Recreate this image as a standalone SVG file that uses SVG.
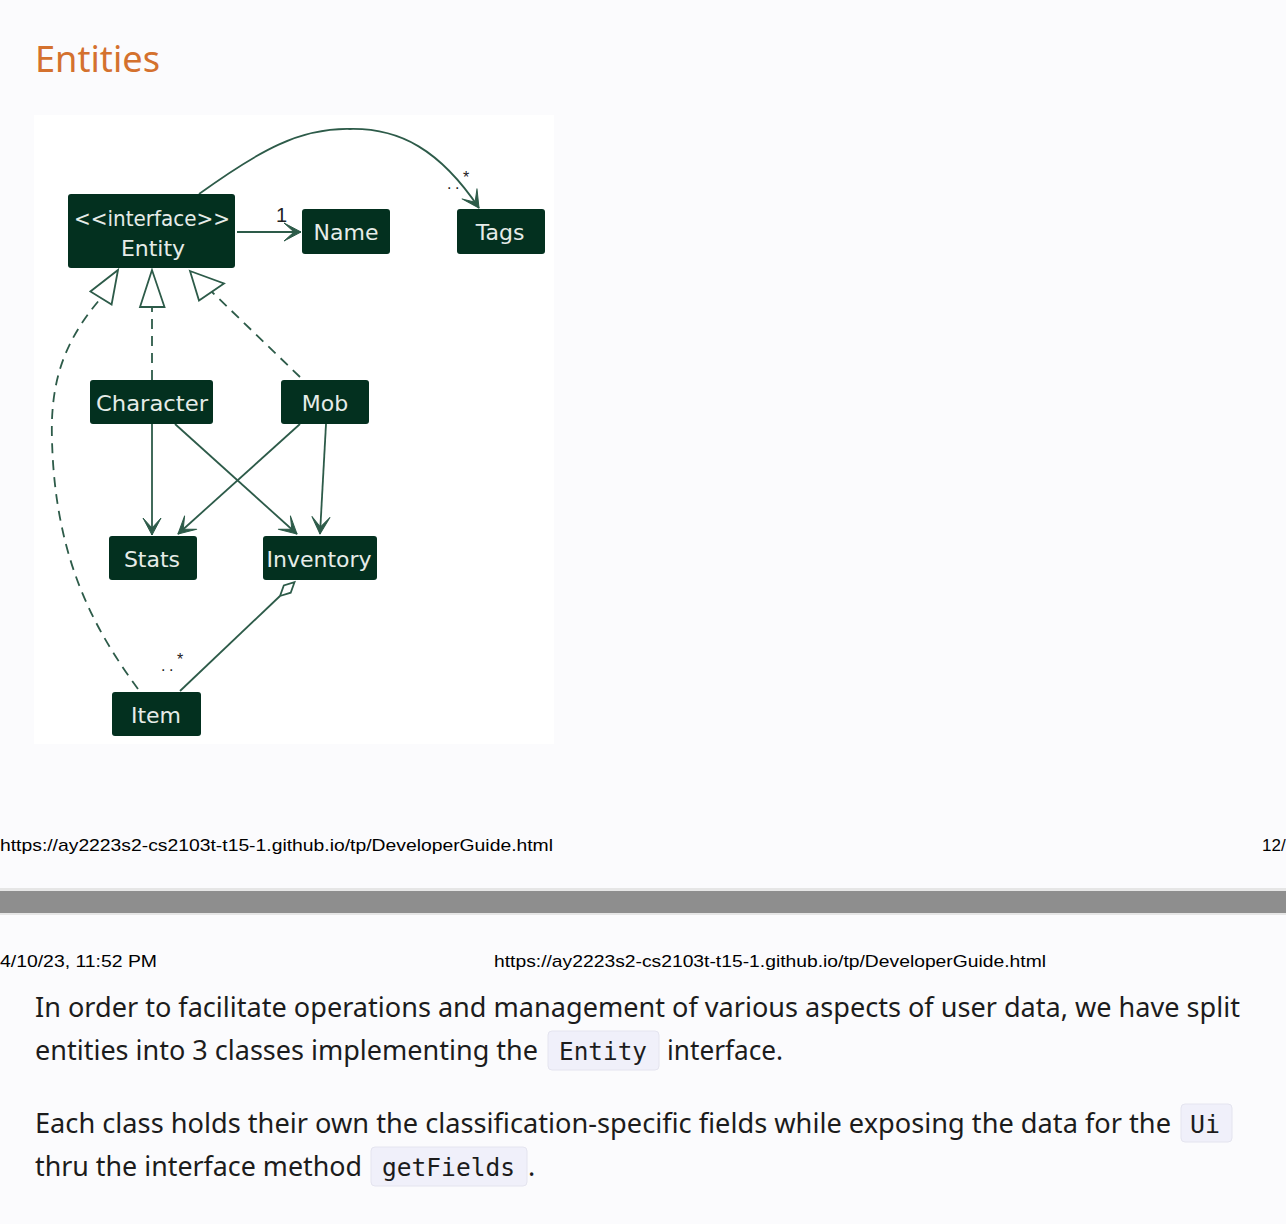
<svg xmlns="http://www.w3.org/2000/svg" width="1286" height="1224" viewBox="0 0 1286 1224">
<style>
.node rect{fill:#03301f;}
.node text{font-family:"DejaVu Sans",sans-serif;font-size:22px;fill:#e6ece8;text-anchor:middle;}
.edge{fill:none;stroke:#2d5b49;stroke-width:1.8;}
.dash{stroke-dasharray:10,7;}
.hollow{fill:#ffffff;stroke:#2d5b49;stroke-width:1.8;}
.lbl{font-family:"Liberation Sans",sans-serif;fill:#222;}
.body{font-family:"Noto Sans","Open Sans",sans-serif;font-size:27px;fill:#1c1c1c;}
.code{font-family:"DejaVu Sans Mono","Liberation Mono",monospace;font-size:25px;fill:#1c1c1c;}
.cbox{fill:#f0f0fa;stroke:#e4e4ef;stroke-width:1;}
.foot{font-family:"Liberation Sans",sans-serif;font-size:17px;fill:#000;}
</style>
<defs>
<marker id="arr" markerUnits="userSpaceOnUse" viewBox="-18 -11 20 22" refX="0" refY="0" markerWidth="20" markerHeight="22" orient="auto">
<path d="M0,0 L-17,-9 L-7,0 L-17,9 Z" fill="#2d5b49" stroke="#2d5b49" stroke-width="1" stroke-linejoin="round"/>
</marker>
</defs>
<rect x="0" y="0" width="1286" height="1224" fill="#fbfbfd"/>
<text x="35" y="72" font-family="Noto Sans, Open Sans, sans-serif" font-size="37" fill="#d4712e" textLength="125" lengthAdjust="spacingAndGlyphs">Entities</text>
<rect x="34" y="115" width="520" height="629" fill="#ffffff"/>

<g id="connectors">
<path class="edge" d="M199,194 C260,150 300,128 350,129 C400,128 440,150 479,208" marker-end="url(#arr)"/>
<path class="edge" d="M237,232 L301,232" marker-end="url(#arr)"/>
<path class="edge" d="M152,424 L152,535" marker-end="url(#arr)"/>
<path class="edge" d="M300,424 L178,534" marker-end="url(#arr)"/>
<path class="edge" d="M175,424 L297,534" marker-end="url(#arr)"/>
<path class="edge" d="M326,424 L320,534" marker-end="url(#arr)"/>
<path class="edge dash" d="M152,380 L152,307"/>
<polygon class="hollow" points="152,270 140,307 164.5,307"/>
<path class="edge dash" d="M300,377 L212,292"/>
<polygon class="hollow" points="190,271 224,283.5 199,300.5"/>
<path class="edge dash" d="M138,689 C95,630 55,560 52,440 C50,380 65,340 101,298"/>
<polygon class="hollow" points="118,270 111.6,304.5 90.4,291.5"/>
<path class="edge" d="M180,691 L280,596"/>
<polygon class="hollow" points="280,596 290.7,592.7 294.5,582.2 283.8,585.5"/>
<text class="lbl" x="276" y="222" font-size="20">1</text>
<text class="lbl" x="447" y="189" font-size="16" letter-spacing="3.5">..<tspan dy="-6">*</tspan></text>
<text class="lbl" x="161" y="671" font-size="16" letter-spacing="3.5">..<tspan dy="-6">*</tspan></text>
</g>

<g id="entity" class="node"><rect x="68" y="194" width="167" height="74" rx="3"/>
<text x="152" y="226" textLength="156" lengthAdjust="spacingAndGlyphs">&lt;&lt;interface&gt;&gt;</text>
<text x="153" y="256">Entity</text></g>
<g id="name" class="node"><rect x="302" y="209" width="88" height="45" rx="3"/><text x="346" y="240">Name</text></g>
<g id="tags" class="node"><rect x="457" y="209" width="88" height="45" rx="3"/><text x="500" y="240">Tags</text></g>
<g id="character" class="node"><rect x="90" y="380" width="123" height="44" rx="3"/><text x="152" y="411" textLength="112" lengthAdjust="spacingAndGlyphs">Character</text></g>
<g id="mob" class="node"><rect x="281" y="380" width="88" height="44" rx="3"/><text x="325" y="411">Mob</text></g>
<g id="stats" class="node"><rect x="109" y="536" width="88" height="44" rx="3"/><text x="152" y="567">Stats</text></g>
<g id="inventory" class="node"><rect x="263" y="536" width="114" height="44" rx="3"/><text x="319" y="567">Inventory</text></g>
<g id="item" class="node"><rect x="112" y="692" width="89" height="44" rx="3"/><text x="156" y="723">Item</text></g>

<text class="foot" x="0" y="851" textLength="553" lengthAdjust="spacingAndGlyphs">https://ay2223s2-cs2103t-t15-1.github.io/tp/DeveloperGuide.html</text>
<text class="foot" x="1262" y="851">12/</text>
<rect x="0" y="888" width="1286" height="27" fill="#e6e6e6"/>
<rect x="0" y="891" width="1286" height="22" fill="#8e8e8e"/>
<text class="foot" x="0" y="967" textLength="157" lengthAdjust="spacingAndGlyphs">4/10/23, 11:52 PM</text>
<text class="foot" x="494" y="967" textLength="552" lengthAdjust="spacingAndGlyphs">https://ay2223s2-cs2103t-t15-1.github.io/tp/DeveloperGuide.html</text>

<text class="body" x="35" y="1017" textLength="1205" lengthAdjust="spacingAndGlyphs">In order to facilitate operations and management of various aspects of user data, we have split</text>
<text class="body" x="35" y="1060" textLength="503" lengthAdjust="spacingAndGlyphs">entities into 3 classes implementing the</text>
<rect class="cbox" x="548" y="1031" width="111" height="39" rx="4"/>
<text class="code" x="559" y="1060" textLength="88" lengthAdjust="spacingAndGlyphs">Entity</text>
<text class="body" x="667" y="1060" textLength="116" lengthAdjust="spacingAndGlyphs">interface.</text>
<text class="body" x="35" y="1133" textLength="1136" lengthAdjust="spacingAndGlyphs">Each class holds their own the classification-specific fields while exposing the data for the</text>
<rect class="cbox" x="1181" y="1104" width="51" height="38" rx="4"/>
<text class="code" x="1190" y="1133" textLength="30" lengthAdjust="spacingAndGlyphs">Ui</text>
<text class="body" x="35" y="1176" textLength="327" lengthAdjust="spacingAndGlyphs">thru the interface method</text>
<rect class="cbox" x="371" y="1147" width="156" height="39" rx="4"/>
<text class="code" x="382" y="1176" textLength="133" lengthAdjust="spacingAndGlyphs">getFields</text>
<text class="body" x="528" y="1176">.</text>
</svg>
